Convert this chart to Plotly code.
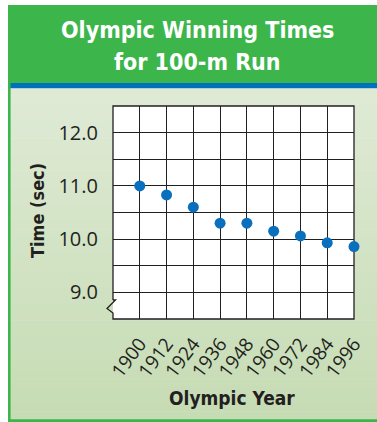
import plotly.graph_objects as go

# Winning times for the Olympic 100-m run
years = [1900, 1912, 1924, 1936, 1948, 1960, 1972, 1984, 1996]
times = [11.0, 10.83, 10.6, 10.3, 10.3, 10.15, 10.06, 9.93, 9.86]

# grid rows every half second; only whole seconds are labelled
time_grid = [8.5, 9.0, 9.5, 10.0, 10.5, 11.0, 11.5, 12.0, 12.5]
time_labels = ["", "9.0", "", "10.0", "", "11.0", "", "12.0", ""]
year_labels = [str(y) for y in years]

title_lines = ["Olympic Winning Times", "for 100-m Run"]
x_title = "Olympic Year"
y_title = "Time (sec)"

W, H = 377, 422
L, R, T, B = 113, 354, 106, 319          # plot area in pixels
PW, PH = R - L, B - T

def px(x):
    return (x - L) / PW

def py(y):
    return (B - y) / PH

GREEN = "#3cb54b"
BLUE = "#0071bc"
INK = "#231f20"
DOT = "#0a6fbd"
COND = "Liberation Sans Narrow, DejaVu Sans Condensed, Arial Narrow, sans-serif"
BODY = "Open Sans, Lato, sans-serif"

shapes = []

# header band and blue rule
shapes.append(dict(type="rect", xref="paper", yref="paper", layer="below",
                   x0=px(8), x1=px(W + 2), y0=py(83), y1=py(5),
                   fillcolor=GREEN, line=dict(width=0)))
shapes.append(dict(type="rect", xref="paper", yref="paper", layer="below",
                   x0=px(10), x1=px(W + 2), y0=py(88.5), y1=py(83),
                   fillcolor=BLUE, line=dict(width=0)))

# panel with a soft vertical green gradient
top_c = (0xdf, 0xea, 0xd5)
bot_c = (0xc6, 0xdc, 0xb4)
y_start, y_end = 88.5, 419.5
n = 40
for i in range(n):
    t = i / (n - 1)
    c = tuple(round(a + (b - a) * t) for a, b in zip(top_c, bot_c))
    ya = y_start + (y_end - y_start) * i / n
    yb = y_start + (y_end - y_start) * (i + 1) / n + 0.6
    shapes.append(dict(type="rect", xref="paper", yref="paper", layer="below",
                       x0=px(10), x1=px(W + 2), y0=py(yb), y1=py(ya),
                       fillcolor="rgb(%d,%d,%d)" % c, line=dict(width=0)))

# green frame edges on the left and bottom
shapes.append(dict(type="rect", xref="paper", yref="paper", layer="below",
                   x0=px(8), x1=px(10.6), y0=py(H + 2), y1=py(83),
                   fillcolor=GREEN, line=dict(width=0)))
shapes.append(dict(type="rect", xref="paper", yref="paper", layer="below",
                   x0=px(8), x1=px(W + 2), y0=py(H + 2), y1=py(419.3),
                   fillcolor=GREEN, line=dict(width=0)))

# white plotting field
shapes.append(dict(type="rect", xref="paper", yref="paper", layer="below",
                   x0=0, x1=1, y0=0, y1=1,
                   fillcolor="white", line=dict(width=0)))

# plot frame with an axis-break zigzag on the left edge
zx = -6 / PW
zy_top = py(300)
zy_mid = py(308.5)
zy_bot = py(313)
frame = (f"M 0,{zy_top} L 0,1 L 1,1 L 1,0 L 0,0 L 0,{zy_bot} "
         f"L {zx},{zy_mid} L {2.5 / PW},{zy_top} L 0,{zy_top}")
shapes.append(dict(type="path", xref="paper", yref="paper", layer="below",
                   path=frame, line=dict(color=INK, width=1.3)))

fig = go.Figure()
fig.add_trace(go.Scatter(
    x=years, y=times, mode="markers",
    marker=dict(size=11, color=DOT, line=dict(width=0)),
    cliponaxis=False, hoverinfo="skip", showlegend=False,
))

annotations = [
    dict(text=title_lines[0], x=px(197), y=py(30), xref="paper", yref="paper",
         showarrow=False, xanchor="center", yanchor="middle",
         font=dict(family=COND, size=23, color="white", weight="bold")),
    dict(text=title_lines[1], x=px(197), y=py(62), xref="paper", yref="paper",
         showarrow=False, xanchor="center", yanchor="middle",
         font=dict(family=COND, size=23, color="white", weight="bold")),
    dict(text=x_title, x=px(232), y=py(398), xref="paper", yref="paper",
         showarrow=False, xanchor="center", yanchor="middle",
         font=dict(family=COND, size=19, color=INK, weight="bold")),
    dict(text=y_title, x=px(37), y=py(211), xref="paper", yref="paper",
         showarrow=False, xanchor="center", yanchor="middle", textangle=-90,
         font=dict(family=COND, size=18, color=INK, weight="bold")),
]

fig.update_layout(
    width=W, height=H,
    margin=dict(l=L, r=W - R, t=T, b=H - B, pad=0),
    paper_bgcolor="white",
    plot_bgcolor="rgba(0,0,0,0)",
    shapes=shapes,
    annotations=annotations,
    xaxis=dict(
        range=[1888, 1996], tickmode="array", tickvals=years, ticktext=year_labels,
        tickangle=-53, showgrid=True, gridcolor=INK, gridwidth=1,
        zeroline=False, showline=False, ticks="", ticklabelstandoff=9,
        tickfont=dict(family=BODY, size=19, color=INK), fixedrange=True,
    ),
    yaxis=dict(
        range=[8.5, 12.5], tickmode="array", tickvals=time_grid, ticktext=time_labels,
        showgrid=True, gridcolor=INK, gridwidth=1,
        zeroline=False, showline=False, ticks="", ticklabelstandoff=14,
        tickfont=dict(family=BODY, size=20, color=INK), fixedrange=True,
    ),
)

fig.write_html("out.html")
